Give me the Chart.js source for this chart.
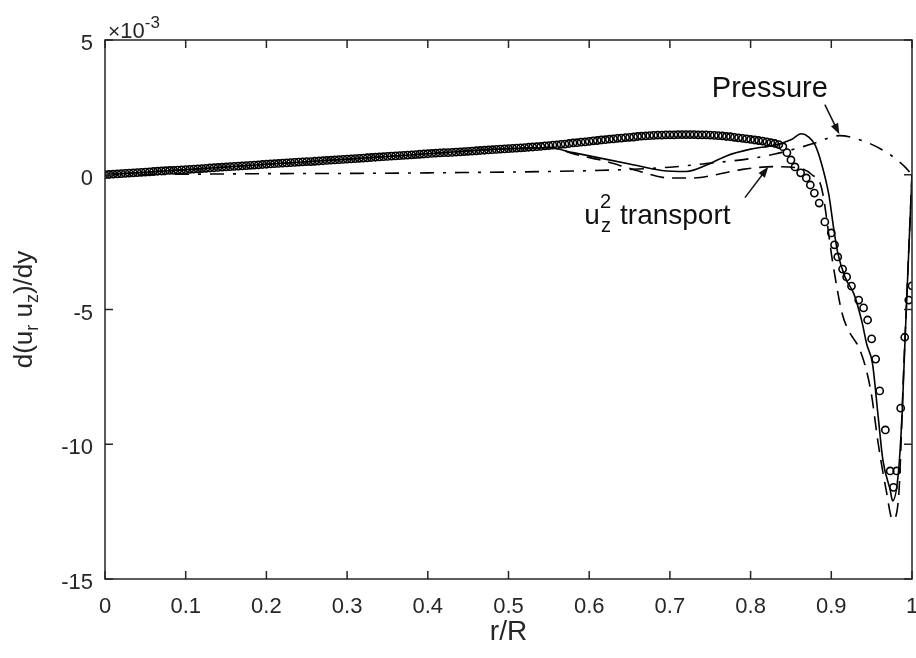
<!DOCTYPE html>
<html>
<head>
<meta charset="utf-8">
<title>d(u_r u_z)/dy budget</title>
<script src="https://cdn.jsdelivr.net/npm/chart.js@4.4.1/dist/chart.umd.min.js"></script>
<style>
  html, body { margin: 0; padding: 0; background: #fff; }
  canvas { display: block; }
</style>
</head>
<body>
<canvas id="budgetChart" width="916" height="658"></canvas>
<script>
// values in units of 1e-3 (axis shows the x10^-3 factor)
const xTicks = [0, 0.1, 0.2, 0.3, 0.4, 0.5, 0.6, 0.7, 0.8, 0.9, 1];
const yTicks = [-15, -10, -5, 0, 5];

// total (open circles)
const circleX = [
  0, 0.005, 0.01, 0.015, 0.02, 0.025, 0.03, 0.035, 0.04, 0.045,
  0.05, 0.055, 0.06, 0.065, 0.07, 0.075, 0.08, 0.085, 0.09, 0.095,
  0.1, 0.105, 0.11, 0.115, 0.12, 0.125, 0.13, 0.135, 0.14, 0.145,
  0.15, 0.155, 0.16, 0.165, 0.17, 0.175, 0.18, 0.185, 0.19, 0.195,
  0.2, 0.205, 0.21, 0.215, 0.22, 0.225, 0.23, 0.235, 0.24, 0.245,
  0.25, 0.255, 0.26, 0.265, 0.27, 0.275, 0.28, 0.285, 0.29, 0.295,
  0.3, 0.305, 0.31, 0.315, 0.32, 0.325, 0.33, 0.335, 0.34, 0.345,
  0.35, 0.355, 0.36, 0.365, 0.37, 0.375, 0.38, 0.385, 0.39, 0.395,
  0.4, 0.405, 0.41, 0.415, 0.42, 0.425, 0.43, 0.435, 0.44, 0.445,
  0.45, 0.455, 0.46, 0.465, 0.47, 0.475, 0.48, 0.485, 0.49, 0.495,
  0.5, 0.505, 0.51, 0.515, 0.52, 0.525, 0.53, 0.535, 0.54, 0.545,
  0.55, 0.555, 0.56, 0.565, 0.57, 0.575, 0.58, 0.585, 0.59, 0.595,
  0.6, 0.605, 0.61, 0.615, 0.62, 0.625, 0.63, 0.635, 0.64, 0.645,
  0.65, 0.655, 0.66, 0.665, 0.67, 0.675, 0.68, 0.685, 0.69, 0.695,
  0.7, 0.705, 0.71, 0.715, 0.72, 0.725, 0.73, 0.735, 0.74, 0.745,
  0.75, 0.755, 0.76, 0.765, 0.77, 0.775, 0.78, 0.785, 0.79, 0.795,
  0.8, 0.805, 0.81, 0.815, 0.82, 0.825, 0.83, 0.835, 0.84, 0.845,
  0.85, 0.855, 0.862, 0.869, 0.874, 0.879, 0.885, 0.892, 0.9, 0.904,
  0.908, 0.914, 0.919, 0.925, 0.934, 0.94, 0.945, 0.95, 0.955, 0.96,
  0.967, 0.973, 0.977, 0.981, 0.986, 0.991, 0.996, 1.0
];
const circleY = [
  0.00, 0.01, 0.02, 0.03, 0.04, 0.05, 0.06, 0.07, 0.08, 0.09,
  0.10, 0.11, 0.12, 0.13, 0.14, 0.15, 0.16, 0.16, 0.17, 0.18,
  0.19, 0.20, 0.21, 0.22, 0.23, 0.24, 0.25, 0.26, 0.27, 0.28,
  0.29, 0.30, 0.31, 0.32, 0.33, 0.34, 0.35, 0.36, 0.37, 0.38,
  0.39, 0.40, 0.41, 0.42, 0.43, 0.44, 0.45, 0.46, 0.47, 0.48,
  0.49, 0.49, 0.50, 0.51, 0.52, 0.53, 0.54, 0.55, 0.56, 0.57,
  0.58, 0.59, 0.60, 0.61, 0.62, 0.63, 0.64, 0.65, 0.66, 0.67,
  0.68, 0.69, 0.70, 0.71, 0.72, 0.73, 0.74, 0.75, 0.76, 0.77,
  0.78, 0.79, 0.80, 0.81, 0.82, 0.82, 0.83, 0.84, 0.85, 0.86,
  0.87, 0.88, 0.89, 0.90, 0.91, 0.92, 0.93, 0.94, 0.95, 0.96,
  0.97, 0.98, 0.99, 1.00, 1.01, 1.02, 1.03, 1.04, 1.05, 1.07,
  1.08, 1.10, 1.11, 1.13, 1.14, 1.16, 1.18, 1.19, 1.21, 1.22,
  1.24, 1.26, 1.27, 1.29, 1.30, 1.32, 1.33, 1.35, 1.36, 1.38,
  1.39, 1.40, 1.42, 1.43, 1.44, 1.45, 1.46, 1.47, 1.47, 1.48,
  1.48, 1.48, 1.49, 1.49, 1.49, 1.49, 1.49, 1.48, 1.48, 1.48,
  1.47, 1.46, 1.45, 1.44, 1.42, 1.41, 1.39, 1.37, 1.35, 1.33,
  1.31, 1.29, 1.27, 1.25, 1.22, 1.19, 1.16, 1.12, 1.04, 0.82,
  0.55, 0.29, 0.07, -0.12, -0.38, -0.68, -1.05, -1.75, -2.16, -2.6,
  -3.05, -3.5, -3.79, -4.13, -4.65, -4.94, -5.39, -6.09, -6.84, -8.02,
  -9.47, -10.99, -11.6, -10.99, -8.66, -6.03, -4.65, -4.12
];

// solid line
const solidX = [0, 0.1, 0.2, 0.3, 0.4, 0.5, 0.55, 0.58, 0.62, 0.65, 0.69, 0.72, 0.75, 0.77, 0.8, 0.83, 0.85, 0.863,
  0.872, 0.88, 0.888, 0.897, 0.903, 0.908, 0.917, 0.928, 0.938, 0.944, 0.951, 0.958, 0.964, 0.973, 0.976,
  0.983, 0.988, 0.991, 1.0];
const solidY = [0, 0.19, 0.39, 0.58, 0.78, 0.97, 1.0, 0.82, 0.58, 0.4, 0.16, 0.12, 0.42, 0.7, 0.95, 1.1, 1.3, 1.52,
  1.4, 1.1, 0.4, -0.75, -2.0, -2.9, -3.8, -4.42, -5.46, -6.3, -7.0, -8.95, -10.6, -11.7, -12.1,
  -11.1, -8.7, -6.4, 0];

// dashed line (u_z^2 transport)
const dashedX = [0, 0.1, 0.2, 0.3, 0.4, 0.5, 0.55, 0.58, 0.62, 0.66, 0.7, 0.73, 0.76, 0.79, 0.83, 0.86, 0.876,
  0.888, 0.902, 0.913, 0.921, 0.928, 0.934, 0.943, 0.95, 0.958, 0.968, 0.976, 0.983, 0.99, 1.0];
const dashedY = [0, 0.19, 0.39, 0.58, 0.78, 0.97, 1.02, 0.78, 0.5, 0.15, -0.12, -0.12, 0.02, 0.2, 0.3, 0.25, 0,
  -0.5, -3.3, -5.1, -5.76, -6.1, -6.4, -7.2, -8.2, -9.95, -11.7, -12.8, -12.1, -7, 0];

// dash-dot line (pressure)
const pressureX = [0, 0.1, 0.2, 0.3, 0.4, 0.5, 0.6, 0.65, 0.7, 0.75, 0.8, 0.83, 0.86, 0.88, 0.91, 0.94, 0.97, 0.99, 1.0];
const pressureY = [0, 0.02, 0.04, 0.05, 0.07, 0.1, 0.15, 0.2, 0.28, 0.43, 0.6, 0.77, 1.0, 1.18, 1.45, 1.25, 0.8, 0.33, 0];

const FONT = '"Liberation Sans", Arial, Helvetica, sans-serif';
const INK = "#262626";

function toPoints(xs, ys) {
  return xs.map((x, i) => ({ x, y: ys[i] }));
}

function drawArrow(ctx, x0, y0, x1, y1) {
  const a = Math.atan2(y1 - y0, x1 - x0);
  const len = 11;
  const half = 4;
  ctx.beginPath();
  ctx.moveTo(x0, y0);
  ctx.lineTo(x1 - len * 0.6 * Math.cos(a), y1 - len * 0.6 * Math.sin(a));
  ctx.stroke();
  ctx.beginPath();
  ctx.moveTo(x1, y1);
  ctx.lineTo(x1 - len * Math.cos(a) + half * Math.sin(a), y1 - len * Math.sin(a) - half * Math.cos(a));
  ctx.lineTo(x1 - len * Math.cos(a) - half * Math.sin(a), y1 - len * Math.sin(a) + half * Math.cos(a));
  ctx.closePath();
  ctx.fill();
}

// draws runs of [text, size, baselineShift] left to right
function drawRuns(ctx, runs, x, y) {
  let cx = x;
  runs.forEach(([text, size, dy]) => {
    ctx.font = `${size}px ${FONT}`;
    ctx.fillText(text, cx, y + dy);
    cx += ctx.measureText(text).width;
  });
}

function runsWidth(ctx, runs) {
  return runs.reduce((w, [text, size]) => {
    ctx.font = `${size}px ${FONT}`;
    return w + ctx.measureText(text).width;
  }, 0);
}

const frame = {
  id: "frame",
  afterDraw(chart) {
    const { ctx, chartArea: area, scales } = chart;
    const xs = scales.x;
    const ys = scales.y;
    ctx.save();

    // box and inward ticks
    ctx.strokeStyle = INK;
    ctx.lineWidth = 1.5;
    ctx.strokeRect(area.left, area.top, area.right - area.left, area.bottom - area.top);
    const tick = 8;
    ctx.beginPath();
    xTicks.forEach((v) => {
      const px = xs.getPixelForValue(v);
      ctx.moveTo(px, area.bottom);
      ctx.lineTo(px, area.bottom - tick);
      ctx.moveTo(px, area.top);
      ctx.lineTo(px, area.top + tick);
    });
    yTicks.forEach((v) => {
      const py = ys.getPixelForValue(v);
      ctx.moveTo(area.left, py);
      ctx.lineTo(area.left + tick, py);
      ctx.moveTo(area.right, py);
      ctx.lineTo(area.right - tick, py);
    });
    ctx.stroke();

    ctx.fillStyle = INK;
    ctx.textBaseline = "alphabetic";
    ctx.textAlign = "left";

    // exponent
    drawRuns(ctx, [["\u00d7", 21, 0], ["10", 22, 0], ["-3", 17, -10]], area.left + 3, area.top - 2);

    // x label
    ctx.font = `28px ${FONT}`;
    ctx.textAlign = "center";
    ctx.fillText("r/R", (area.left + area.right) / 2, 640);

    // y label with subscripts
    ctx.textAlign = "left";
    const yRuns = [["d(u", 26, 0], ["r", 18, 6], [" u", 26, 0], ["z", 18, 6], [")/dy", 26, 0]];
    ctx.save();
    ctx.translate(32, (area.top + area.bottom) / 2);
    ctx.rotate(-Math.PI / 2);
    drawRuns(ctx, yRuns, -runsWidth(ctx, yRuns) / 2, 0);
    ctx.restore();

    // annotations
    ctx.fillStyle = "#111";
    ctx.strokeStyle = "#111";
    ctx.lineWidth = 1.5;
    ctx.font = `29px ${FONT}`;
    ctx.fillText("Pressure", xs.getPixelForValue(0.752), ys.getPixelForValue(2.89));
    drawArrow(ctx, xs.getPixelForValue(0.892), ys.getPixelForValue(2.6),
      xs.getPixelForValue(0.91), ys.getPixelForValue(1.5));

    const ux = xs.getPixelForValue(0.594);
    const uy = ys.getPixelForValue(-1.83);
    ctx.font = `28px ${FONT}`;
    ctx.fillText("u", ux, uy);
    const uw = ctx.measureText("u").width;
    ctx.font = `20px ${FONT}`;
    ctx.fillText("z", ux + uw + 1, uy + 8);
    ctx.fillText("2", ux + uw, uy - 16);
    const sw = ctx.measureText("2").width;
    ctx.font = `28px ${FONT}`;
    ctx.fillText("transport", ux + uw + sw + 9, uy);
    drawArrow(ctx, xs.getPixelForValue(0.793), ys.getPixelForValue(-0.85),
      xs.getPixelForValue(0.822), ys.getPixelForValue(0.3));

    ctx.restore();
  },
};

new Chart(document.getElementById("budgetChart"), {
  type: "scatter",
  data: {
    datasets: [
      {
        label: "total",
        data: toPoints(circleX, circleY),
        showLine: false,
        pointStyle: "circle",
        pointRadius: 3.6,
        pointBorderWidth: 1.6,
        pointBorderColor: "#000",
        pointBackgroundColor: "rgba(0,0,0,0)",
      },
      {
        label: "solid",
        data: toPoints(solidX, solidY),
        showLine: true,
        borderColor: "#000",
        borderWidth: 1.6,
        pointRadius: 0,
        cubicInterpolationMode: "monotone",
      },
      {
        label: "u_z^2 transport",
        data: toPoints(dashedX, dashedY),
        showLine: true,
        borderColor: "#000",
        borderWidth: 1.6,
        borderDash: [14, 8],
        pointRadius: 0,
        cubicInterpolationMode: "monotone",
      },
      {
        label: "Pressure",
        data: toPoints(pressureX, pressureY),
        showLine: true,
        borderColor: "#000",
        borderWidth: 1.6,
        borderDash: [14, 9, 3, 9],
        pointRadius: 0,
        cubicInterpolationMode: "monotone",
      },
    ],
  },
  options: {
    responsive: false,
    animation: false,
    layout: { autoPadding: false, padding: { left: 0, top: 40, right: 4, bottom: 0 } },
    plugins: { legend: { display: false }, tooltip: { enabled: false } },
    scales: {
      x: {
        type: "linear",
        min: 0,
        max: 1,
        grid: { display: false, drawTicks: false },
        border: { display: false },
        afterFit: (scale) => {
          scale.height = 79;
          scale.paddingLeft = 0;
          scale.paddingRight = 0;
        },
        afterBuildTicks: (scale) => { scale.ticks = xTicks.map((v) => ({ value: v })); },
        ticks: {
          padding: 15,
          color: INK,
          font: { family: FONT, size: 22 },
          callback: (v) => String(+v.toFixed(1)),
        },
      },
      y: {
        type: "linear",
        min: -15,
        max: 5,
        grid: { display: false, drawTicks: false },
        border: { display: false },
        afterFit: (scale) => {
          scale.width = 105;
          scale.paddingTop = 0;
          scale.paddingBottom = 0;
        },
        afterBuildTicks: (scale) => { scale.ticks = yTicks.map((v) => ({ value: v })); },
        ticks: {
          padding: 12,
          labelOffset: 4,
          color: INK,
          font: { family: FONT, size: 22 },
          callback: (v) => String(v),
        },
      },
    },
  },
  plugins: [frame],
});
</script>
</body>
</html>
